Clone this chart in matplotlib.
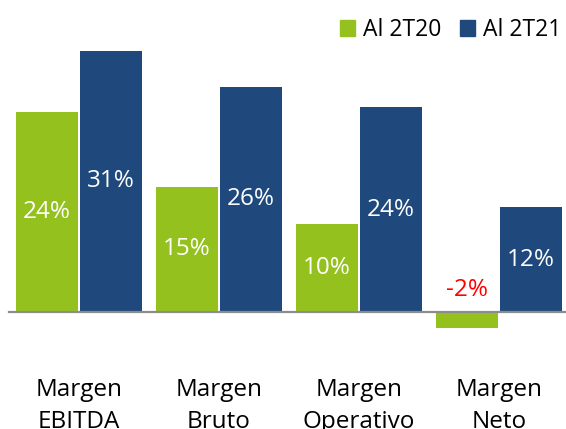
import numpy as np
import matplotlib
matplotlib.use("Agg")
import matplotlib.pyplot as plt
from matplotlib.patches import Patch

# data
categories = ["Margen\nEBITDA", "Margen\nBruto", "Margen\nOperativo", "Margen\nNeto"]
series_names = ["Al 2T20", "Al 2T21"]
vals_2t20 = [23.8, 14.9, 10.5, -1.9]
vals_2t21 = [31.1, 26.8, 24.4, 12.5]
labels_2t20 = ["24%", "15%", "10%", "-2%"]
labels_2t21 = ["31%", "26%", "24%", "12%"]

GREEN = "#95C11F"
NAVY = "#1F497D"

plt.rcParams['font.family'] = ['Open Sans', 'DejaVu Sans']

fig = plt.figure(figsize=(5.66, 4.29), dpi=100)
ax = fig.add_axes([0, 0, 1, 1])
ax.set_xlim(-79 / 140, (566 - 79) / 140)
ax.set_ylim(-117 / 8.4, 312 / 8.4)
ax.axis("off")

x = np.arange(len(categories))
w = 62 / 140
off = 32 / 140
ax.bar(x - off, vals_2t20, width=w, color=GREEN, zorder=2)
ax.bar(x + off, vals_2t21, width=w, color=NAVY, zorder=2)
ax.axhline(0, xmin=9 / 566, xmax=1, color="#8C8C8C", lw=1.6, zorder=3)

fs = 17.5
for i in range(len(categories)):
    v = vals_2t20[i]
    if v > 0:
        ax.text(x[i] - off, v / 2, labels_2t20[i], color="white", fontsize=fs,
                ha="center", va="center")
    else:
        ax.text(x[i] - off, 2.6, labels_2t20[i], color="red", fontsize=fs,
                ha="center", va="center")
    v = vals_2t21[i]
    ax.text(x[i] + off, v / 2, labels_2t21[i], color="white", fontsize=fs,
            ha="center", va="center")
    ax.text(x[i], -11.2, categories[i], color="black", fontsize=fs,
            ha="center", va="center", linespacing=1.4)

handles = [Patch(color=GREEN), Patch(color=NAVY)]
ax.legend(handles, series_names, loc="upper right", ncol=2, frameon=False,
          fontsize=16.5, handlelength=0.65, handleheight=0.65, handletextpad=0.35,
          columnspacing=0.8, borderaxespad=0.3, bbox_to_anchor=(1.0 + 11 / 566, 1.0 - 2 / 429))

fig.savefig("out.png", dpi=100)
